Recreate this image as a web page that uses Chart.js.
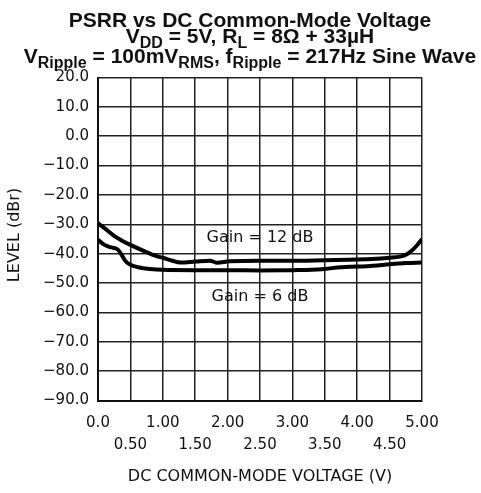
<!DOCTYPE html>
<html>
<head>
<meta charset="utf-8">
<script src="https://cdn.jsdelivr.net/npm/chart.js@4.4.1/dist/chart.umd.min.js"></script>
<style>
  body { margin: 0; background: #fff; }
  canvas { display: block; }
</style>
</head>
<body>
<canvas id="chartCanvas" width="481" height="493"></canvas>
<script>
// DC common-mode voltage (V)
const voltsGain12 = [0, 0.1, 0.26, 0.35, 0.5, 0.73, 0.9, 1.0, 1.15, 1.27, 1.5, 1.73, 1.84, 2.03, 2.5, 3.0, 3.5, 4.0, 4.3, 4.5, 4.66, 4.76, 4.84, 4.92, 5.0];
const levelGain12 = [-29.6, -31.3, -34.1, -35.3, -37.0, -39.3, -40.8, -41.4, -42.4, -43.0, -42.7, -42.4, -43.1, -42.6, -42.4, -42.4, -42.2, -42.0, -41.7, -41.4, -41.0, -40.3, -39.0, -37.2, -35.0];

const voltsGain6 = [0, 0.1, 0.19, 0.3, 0.36, 0.42, 0.5, 0.62, 0.8, 1.0, 1.5, 2.0, 2.5, 3.0, 3.3, 3.5, 3.75, 4.0, 4.25, 4.5, 4.75, 5.0];
const levelGain6 = [-35.3, -37.0, -37.8, -38.5, -40.2, -42.4, -43.8, -44.6, -45.2, -45.5, -45.6, -45.6, -45.7, -45.6, -45.5, -45.2, -44.6, -44.4, -44.1, -43.6, -43.2, -43.0];

const curveLabels = ["Gain = 12 dB", "Gain = 6 dB"];
const labelVolts = [2.5, 2.5];
const labelLevels = [-34.7, -54.8];

const titleLines = [
  [["PSRR vs DC Common-Mode Voltage", false]],
  [["V", false], ["DD", true], [" = 5V, R", false], ["L", true], [" = 8\u03A9 + 33\u00B5H", false]],
  [["V", false], ["Ripple", true], [" = 100mV", false], ["RMS", true], [", f", false], ["Ripple", true], [" = 217Hz Sine Wave", false]]
];
const xTitle = "DC COMMON-MODE VOLTAGE (V)";
const yTitle = "LEVEL (dBr)";

const ink = '#111';
const mainFont = 'bold 21px "Liberation Sans"';
const subFont = 'bold 16px "Liberation Sans"';

function toPoints(xs, ys) {
  return xs.map((x, i) => ({ x: x, y: ys[i] }));
}

const textPlugin = {
  id: 'textPlugin',
  afterDraw(chart) {
    const ctx = chart.ctx;
    const xs = chart.scales.x;
    const ys = chart.scales.y;
    ctx.save();
    ctx.fillStyle = ink;

    // title with subscripts
    const baselines = [27, 43, 63];
    titleLines.forEach((line, li) => {
      let total = 0;
      line.forEach(([t, sub]) => {
        ctx.font = sub ? subFont : mainFont;
        total += ctx.measureText(t).width;
      });
      let x = 250 - total / 2;
      if (x + total > 479) x = 479 - total;
      if (x < 1) x = 1;
      ctx.textAlign = 'left';
      ctx.textBaseline = 'alphabetic';
      line.forEach(([t, sub]) => {
        ctx.font = sub ? subFont : mainFont;
        ctx.fillText(t, x, baselines[li] + (sub ? 5 : 0));
        x += ctx.measureText(t).width;
      });
    });

    // axis titles
    ctx.font = '16px "DejaVu Sans"';
    ctx.textAlign = 'center';
    ctx.textBaseline = 'middle';
    ctx.fillText(xTitle, (xs.left + xs.right) / 2, 477);
    ctx.save();
    ctx.translate(15, (ys.top + ys.bottom) / 2 - 4);
    ctx.rotate(-Math.PI / 2);
    ctx.fillText(yTitle, 0, 0);
    ctx.restore();

    // curve labels
    ctx.font = '16px "DejaVu Sans"';
    curveLabels.forEach((t, i) => {
      ctx.fillText(t, xs.getPixelForValue(labelVolts[i]), ys.getPixelForValue(labelLevels[i]));
    });
    ctx.restore();
  }
};

const ctx = document.getElementById('chartCanvas').getContext('2d');

const config = {
  type: 'line',
  data: {
    datasets: [
      { label: curveLabels[0], data: toPoints(voltsGain12, levelGain12) },
      { label: curveLabels[1], data: toPoints(voltsGain6, levelGain6) }
    ]
  },
  options: {
    responsive: false,
    animation: false,
    layout: { padding: { top: 77.5, right: 59, left: 0, bottom: 0 } },
    elements: {
      point: { radius: 0 },
      line: { borderColor: '#000', borderWidth: 4, cubicInterpolationMode: 'monotone', fill: false }
    },
    plugins: {
      legend: { display: false },
      title: { display: false },
      tooltip: { enabled: false }
    },
    scales: {
      x: {
        type: 'linear',
        min: 0,
        max: 5,
        afterFit: s => { s.height = 92.5; },
        border: { display: true, color: '#111', width: 2 },
        grid: { color: '#222', lineWidth: 1.5, drawTicks: false },
        ticks: {
          stepSize: 0.5,
          padding: 12,
          color: ink,
          maxRotation: 0,
          autoSkip: false,
          font: { family: 'DejaVu Sans', size: 15, lineHeight: '22px' },
          callback: v => {
            if (Math.round(v * 2) % 2 === 1) return ['', v.toFixed(2)];
            return v === 0 ? '0.0' : v.toFixed(2);
          }
        }
      },
      y: {
        type: 'linear',
        min: -90,
        max: 20,
        afterFit: s => { s.width = 98; },
        border: { display: true, color: '#111', width: 2 },
        grid: { color: '#222', lineWidth: 1.5, drawTicks: false },
        ticks: {
          stepSize: 10,
          padding: 9,
          color: ink,
          font: { family: 'DejaVu Sans', size: 15 },
          callback: v => v.toFixed(1).replace('-', '\u2212')
        }
      }
    }
  },
  plugins: [textPlugin]
};

new Chart(ctx, config);
</script>
</body>
</html>
